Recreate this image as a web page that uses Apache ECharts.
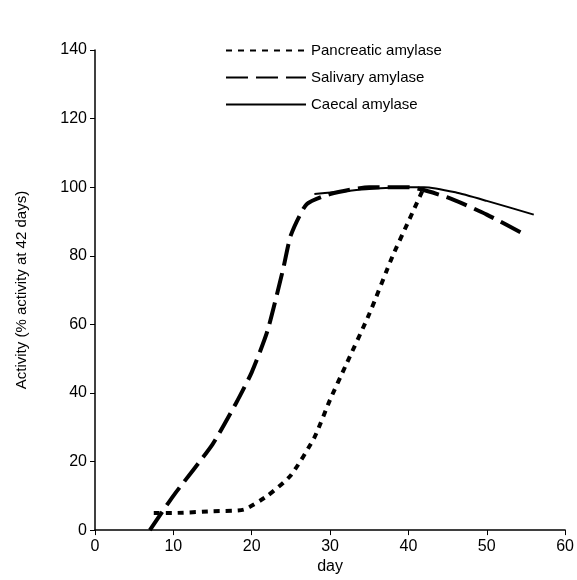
<!DOCTYPE html>
<html><head><meta charset="utf-8">
<script src="https://cdn.jsdelivr.net/npm/echarts@6/dist/echarts.min.js"></script>
<style>html,body{margin:0;background:#fff}#chart{width:577px;height:580px}</style>
</head><body><div id="chart"></div>
<script>
const pancreatic = [[7.5,5],[10,5],[15,5.5],[19,6],[22,10],[25,16],[28,27],[30,38],[32,48],[35,63],[38,80],[40,90],[42,100]];
const salivary = [[7,0],[10,10],[15,25],[18,37],[20,46],[22,58],[24,76],[25,86],[27,95],[30,98],[35,100],[40,100],[45,97],[50,92],[55,86]];
const caecal = [[28,98],[35,99.5],[40,100],[42,100],[46,98.5],[50,96],[56,92]];

const chart = echarts.init(document.getElementById('chart'));
const ax = {
  axisLine: { lineStyle: { color: '#000', width: 1.5 } },
  axisTick: { lineStyle: { color: '#000' } },
  axisLabel: { color: '#000', fontSize: 16, fontFamily: 'Liberation Sans, Arial' },
  splitLine: { show: false }
};
const mk = (name, data, type, width) => ({
  name, type: 'line', data, symbol: 'none', smooth: 0.2, color: '#000',
  lineStyle: { color: '#000', width, type }
});
chart.setOption({
  animation: false,
  grid: { left: 95, right: 10, top: 50, bottom: 48 },
  legend: {
    orient: 'vertical', left: 220, top: 38, itemWidth: 80, itemHeight: 10, itemGap: 12,
    itemStyle: { color: 'transparent', borderWidth: 0 },
    textStyle: { color: '#000', fontSize: 15, fontFamily: 'Liberation Sans, Arial' }
  },
  xAxis: Object.assign({ type: 'value', min: 0, max: 60, interval: 10, name: 'day',
    nameLocation: 'middle', nameGap: 16,
    nameTextStyle: { color: '#000', fontSize: 16, fontFamily: 'Liberation Sans, Arial' } }, ax),
  yAxis: Object.assign({ type: 'value', min: 0, max: 140, interval: 20,
    name: 'Activity (% activity at 42 days)', nameLocation: 'middle', nameGap: 66,
    nameTextStyle: { color: '#000', fontSize: 15, fontFamily: 'Liberation Sans, Arial' } }, ax),
  series: [
    mk('Pancreatic amylase', pancreatic, [6, 6], 4),
    mk('Salivary amylase', salivary, [22, 8], 4),
    mk('Caecal amylase', caecal, 'solid', 2)
  ]
});
</script></body></html>
